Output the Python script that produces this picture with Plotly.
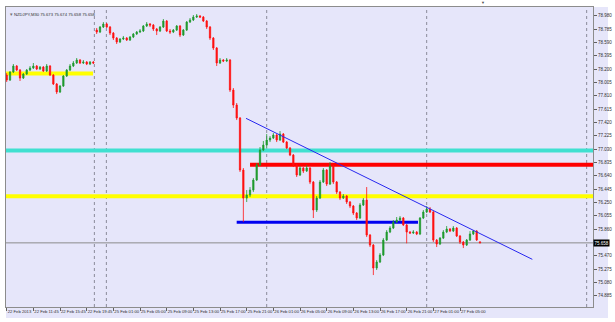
import plotly.graph_objects as go

# ---- data ----
opens = [78.112,78.039,78.156,78.244,78.185,78.068,78.127,78.185,78.215,78.244,
         78.200,78.229,78.171,78.244,78.112,77.981,77.864,77.951,78.098,78.185,
         78.244,78.288,78.332,78.288,78.302,78.273,78.302,78.770,78.741,78.814,
         78.858,78.814,78.726,78.653,78.595,78.639,78.653,78.624,78.668,78.712,
         78.741,78.756,78.829,78.858,78.843,78.785,78.756,78.814,78.902,78.756,
         78.741,78.770,78.829,78.697,78.770,78.887,78.917,78.960,78.975,78.960,
         78.902,78.814,78.653,78.507,78.288,78.332,78.317,78.332,77.893,77.673,
         77.483,76.723,76.313,76.357,76.430,76.577,76.796,77.015,77.088,77.162,
         77.191,77.235,77.162,77.249,77.132,77.045,76.942,76.796,76.650,76.752,
         76.708,76.752,76.547,76.138,76.313,76.547,76.723,76.518,76.781,76.547,
         76.401,76.313,76.343,76.255,76.197,76.094,76.021,76.211,76.284,75.772,
         75.626,75.290,75.378,75.480,75.699,75.816,75.875,75.962,75.992,76.021,
         75.919,75.816,75.802,75.816,75.787,76.021,76.109,76.153,76.109,75.699,
         75.641,75.728,75.816,75.860,75.831,75.875,75.758,75.670,75.626,75.699,
         75.787,75.831,75.673]
highs = [78.141,78.170,78.273,78.258,78.200,78.141,78.200,78.244,78.288,78.258,
         78.244,78.244,78.273,78.258,78.127,77.995,77.966,78.112,78.200,78.273,
         78.317,78.361,78.346,78.332,78.317,78.317,78.317,78.800,78.829,78.887,
         78.873,78.829,78.741,78.668,78.653,78.683,78.668,78.683,78.726,78.756,
         78.785,78.843,78.887,78.873,78.858,78.800,78.829,78.931,78.917,78.785,
         78.785,78.843,78.843,78.785,78.902,78.946,78.990,79.004,78.990,78.975,
         78.917,78.829,78.668,78.522,78.361,78.346,78.361,78.346,77.922,77.703,
         77.498,76.752,76.430,76.474,76.606,76.825,77.059,77.147,77.249,77.220,
         77.264,77.249,77.293,77.264,77.147,77.059,76.957,76.811,76.781,76.767,
         76.796,76.767,76.562,76.343,76.577,76.752,76.737,76.840,76.796,76.562,
         76.416,76.372,76.357,76.270,76.211,76.109,76.240,76.313,76.474,75.787,
         75.641,75.407,75.509,75.728,75.845,75.904,75.992,76.036,76.050,76.036,
         75.933,75.831,75.845,75.831,76.036,76.138,76.197,76.182,76.123,75.714,
         75.743,75.845,75.904,75.875,75.904,75.889,75.772,75.685,75.714,75.830,
         75.845,75.845,75.674]
lows = [78.010,78.025,78.141,78.170,78.025,78.054,78.112,78.170,78.200,78.185,
        78.185,78.156,78.156,78.098,77.966,77.834,77.849,77.937,78.083,78.170,
        78.229,78.273,78.273,78.273,78.258,78.258,78.273,78.712,78.726,78.800,
        78.800,78.697,78.624,78.566,78.580,78.624,78.610,78.610,78.653,78.697,
        78.726,78.741,78.814,78.814,78.756,78.697,78.741,78.800,78.741,78.712,
        78.726,78.756,78.668,78.683,78.756,78.873,78.902,78.946,78.946,78.887,
        78.785,78.624,78.478,78.244,78.273,78.302,78.302,77.864,77.630,77.454,
        76.694,75.965,76.255,76.328,76.401,76.562,76.781,77.000,77.045,77.132,
        77.176,77.132,77.147,77.118,77.030,76.927,76.767,76.621,76.635,76.679,
        76.694,76.518,76.021,76.109,76.299,76.533,76.489,76.504,76.518,76.372,
        76.284,76.299,76.226,76.167,76.065,75.992,76.006,76.197,75.743,75.597,
        75.187,75.261,75.363,75.465,75.685,75.801,75.860,75.948,75.977,75.904,
        75.651,75.787,75.787,75.772,75.772,76.006,76.094,76.094,75.670,75.597,
        75.626,75.714,75.801,75.816,75.816,75.743,75.641,75.582,75.612,75.685,
        75.772,75.685,75.658]
closes = [78.039,78.156,78.244,78.185,78.068,78.127,78.185,78.215,78.244,78.200,
          78.229,78.171,78.244,78.112,77.981,77.864,77.951,78.098,78.185,78.244,
          78.288,78.332,78.288,78.302,78.273,78.302,78.288,78.741,78.814,78.858,
          78.814,78.726,78.653,78.595,78.639,78.653,78.624,78.668,78.712,78.741,
          78.756,78.829,78.858,78.843,78.785,78.756,78.814,78.902,78.756,78.741,
          78.770,78.829,78.697,78.770,78.887,78.917,78.960,78.975,78.960,78.902,
          78.814,78.653,78.507,78.288,78.332,78.317,78.332,77.893,77.673,77.483,
          76.723,76.313,76.357,76.430,76.577,76.796,77.015,77.088,77.162,77.191,
          77.235,77.162,77.249,77.132,77.045,76.942,76.796,76.650,76.752,76.708,
          76.752,76.547,76.138,76.313,76.547,76.723,76.518,76.781,76.547,76.401,
          76.313,76.343,76.255,76.197,76.094,76.021,76.211,76.284,75.772,75.626,
          75.290,75.378,75.480,75.699,75.816,75.875,75.962,75.992,76.021,75.919,
          75.816,75.802,75.816,75.787,76.021,76.109,76.153,76.109,75.699,75.641,
          75.728,75.816,75.860,75.831,75.875,75.758,75.670,75.626,75.699,75.787,
          75.831,75.700,75.658]

x_tick_bars = [0, 8, 16, 24, 32, 40, 48, 56, 64, 72, 80, 88, 96, 104, 112, 120, 128, 136]
x_tick_labels = ["22 Feb 2013", "22 Feb 11:45", "22 Feb 15:45", "22 Feb 19:45",
                 "25 Feb 01:00", "25 Feb 05:00", "25 Feb 09:00", "25 Feb 13:00",
                 "25 Feb 17:00", "25 Feb 21:00", "26 Feb 01:00", "26 Feb 05:00",
                 "26 Feb 09:00", "26 Feb 13:00", "26 Feb 17:00", "26 Feb 21:00",
                 "27 Feb 01:00", "27 Feb 05:00"]
y_tick_vals = [78.980, 78.785, 78.590, 78.395, 78.200, 78.005, 77.810, 77.615,
               77.420, 77.225, 77.030, 76.835, 76.640, 76.445, 76.250, 76.055,
               75.860, 75.470, 75.275, 75.080, 74.885]
day_separators = [26.3, 29.9, 78, 126, 174]
shift_marker_bar = 142.8

# horizontal levels: (price, start bar or None, end bar or None, colour, width)
levels = [
    (77.010, None, None, "#40E0D0", 4),
    (76.800, 73.0, None, "#FF0000", 4),
    (76.340, None, None, "#FFFF00", 4),
    (78.133, None, 25.9, "#FFFF00", 4),
    (75.960, 69.0, 123.4, "#0000F0", 3),
]
trend_start = (71.8, 77.479)
trend_end = (157.7, 75.417)
last_price = 75.658
title_text = "NZDJPY,M30 75.673 75.674 75.658 75.658"

X_MIN, X_MAX = -0.21, 175.9
Y_MIN, Y_MAX = 74.720, 79.107
FONT = "Liberation Sans"

bars = list(range(len(closes)))

fig = go.Figure()
fig.add_trace(go.Candlestick(
    x=bars, open=opens, high=highs, low=lows, close=closes,
    increasing=dict(line=dict(color="#1F9A2E", width=0.8), fillcolor="#1F9A2E"),
    decreasing=dict(line=dict(color="#FF1010", width=0.8), fillcolor="#FF1010"),
    whiskerwidth=0, hoverinfo="skip", showlegend=False,
))

shapes = []
# lavender background area including axis label strip
shapes.append(dict(type="rect", xref="paper", yref="paper", x0=0, x1=1.0256,
                   y0=-0.037, y1=1, fillcolor="#E6E6FA", line=dict(width=0), layer="below"))
for sep in day_separators:
    shapes.append(dict(type="line", xref="x", yref="paper", x0=sep, x1=sep, y0=0, y1=1,
                       line=dict(color="#8A8A9A", width=1, dash="dot"), layer="below"))
for price, x0, x1, col, w in levels:
    shapes.append(dict(type="line", xref="x", yref="y",
                       x0=X_MIN if x0 is None else x0, x1=X_MAX if x1 is None else x1,
                       y0=price, y1=price, line=dict(color=col, width=w), layer="below"))
shapes.append(dict(type="line", xref="paper", yref="y", x0=0, x1=1, y0=last_price, y1=last_price,
                   line=dict(color="#8C8C8C", width=1), layer="below"))
shapes.append(dict(type="line", xref="x", yref="y", x0=trend_start[0], y0=trend_start[1],
                   x1=trend_end[0], y1=trend_end[1], line=dict(color="#2828F0", width=1)))

annotations = [
    dict(text=title_text, xref="paper", yref="paper", x=0.011, y=0.99, xanchor="left",
         yanchor="top", showarrow=False, font=dict(size=4.2, color="#303030", family=FONT)),
    dict(text="▾", xref="paper", yref="paper", x=0.004, y=0.993, xanchor="left",
         yanchor="top", showarrow=False, font=dict(size=5, color="#707070")),
    dict(text="▼", xref="x", yref="paper", x=shift_marker_bar, y=1.0, xanchor="center",
         yanchor="bottom", showarrow=False, font=dict(size=4, color="#505050")),
    dict(text=f"{last_price:.3f}", xref="paper", yref="y", x=1.0, y=last_price, xanchor="left",
         yanchor="middle", showarrow=False, bgcolor="#000000", borderpad=0.5,
         font=dict(size=4.5, color="#FFFFFF", family=FONT)),
]

fig.update_layout(
    width=615, height=322,
    margin=dict(l=6, r=22, t=7, b=15, autoexpand=False),
    paper_bgcolor="#FFFFFF", plot_bgcolor="#E6E6FA",
    boxgap=0.45,
    shapes=shapes, annotations=annotations, showlegend=False,
    xaxis=dict(range=[X_MIN, X_MAX], rangeslider=dict(visible=False), showgrid=False,
               zeroline=False, showline=True, mirror=True, linecolor="#8C8C8C", linewidth=1,
               tickmode="array", tickvals=x_tick_bars, ticktext=x_tick_labels,
               ticks="outside", ticklen=3, tickcolor="#606060", tickangle=0,
               automargin=False, ticklabelposition="outside right",
               tickfont=dict(size=4.2, color="#303030", family=FONT)),
    yaxis=dict(range=[Y_MIN, Y_MAX], side="right", showgrid=False, zeroline=False,
               showline=True, mirror=True, linecolor="#8C8C8C", linewidth=1,
               tickmode="array", tickvals=y_tick_vals, automargin=False,
               ticktext=[f"{v:.3f}" for v in y_tick_vals],
               ticks="outside", ticklen=3, tickcolor="#606060",
               tickfont=dict(size=4.5, color="#303030", family=FONT)),
)

fig.write_html("out.html")
